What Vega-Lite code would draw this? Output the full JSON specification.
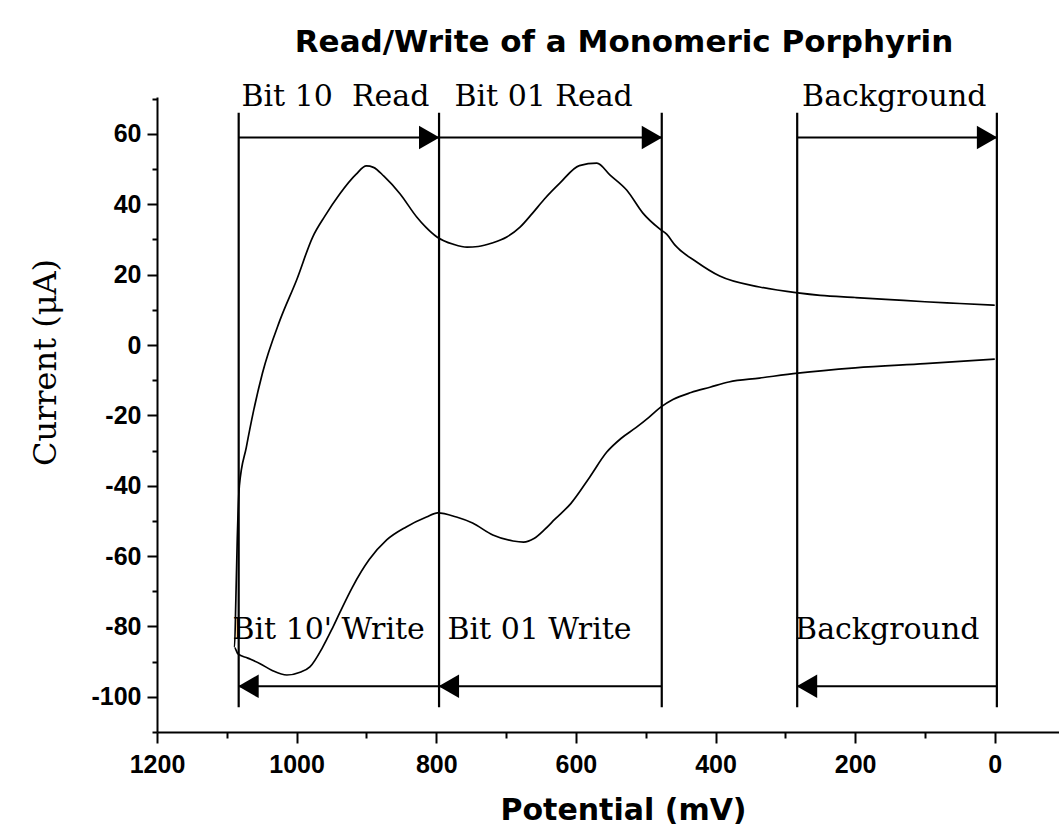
{
  "$schema": "https://vega.github.io/schema/vega-lite/v6.json",
  "width": 902,
  "height": 635,
  "autosize": "none",
  "padding": {"left": 157, "top": 97, "right": 0, "bottom": 107},
  "background": "white",
  "config": {
    "view": {"stroke": null},
    "axis": {
      "domainColor": "black", "domainWidth": 2, "tickColor": "black", "tickWidth": 2,
      "labelColor": "black", "labelFont": "Liberation Sans", "labelFontSize": 25, "labelFontWeight": "bold",
      "titleColor": "black", "grid": false
    }
  },
  "title": {
    "text": "Read/Write of a Monomeric Porphyrin",
    "font": "DejaVu Sans", "fontWeight": "bold", "fontSize": 31, "color": "black",
    "anchor": "middle", "dx": 16, "offset": 23
  },
  "datasets": {
    "curve": [
      {"k": 0, "E": 0, "I": 11.3}, {"k": 1, "E": 50, "I": 11.8}, {"k": 2, "E": 100, "I": 12.3},
      {"k": 3, "E": 150, "I": 12.9}, {"k": 4, "E": 200, "I": 13.5}, {"k": 5, "E": 250, "I": 14.1},
      {"k": 6, "E": 282, "I": 14.8}, {"k": 7, "E": 337, "I": 16.5}, {"k": 8, "E": 394, "I": 19.6},
      {"k": 9, "E": 427, "I": 23.6}, {"k": 10, "E": 458, "I": 28.4}, {"k": 11, "E": 470, "I": 31.5},
      {"k": 12, "E": 480, "I": 33}, {"k": 13, "E": 504, "I": 37.5}, {"k": 14, "E": 527, "I": 44},
      {"k": 15, "E": 551, "I": 48.3}, {"k": 16, "E": 570, "I": 51.7}, {"k": 17, "E": 595, "I": 51},
      {"k": 18, "E": 623, "I": 46}, {"k": 19, "E": 645, "I": 41.5}, {"k": 20, "E": 662, "I": 37.5},
      {"k": 21, "E": 680, "I": 33.5}, {"k": 22, "E": 699, "I": 30.7}, {"k": 23, "E": 720, "I": 29},
      {"k": 24, "E": 740, "I": 28}, {"k": 25, "E": 756, "I": 27.8}, {"k": 26, "E": 775, "I": 28.6},
      {"k": 27, "E": 799, "I": 30.7}, {"k": 28, "E": 815, "I": 33.5}, {"k": 29, "E": 828, "I": 36.4},
      {"k": 30, "E": 852, "I": 43}, {"k": 31, "E": 875, "I": 48}, {"k": 32, "E": 890, "I": 50.5},
      {"k": 33, "E": 900, "I": 50.9}, {"k": 34, "E": 915, "I": 48.5}, {"k": 35, "E": 938, "I": 43},
      {"k": 36, "E": 960, "I": 36.5}, {"k": 37, "E": 977, "I": 30.7}, {"k": 38, "E": 1000, "I": 18.5},
      {"k": 39, "E": 1024, "I": 7}, {"k": 40, "E": 1049, "I": -8}, {"k": 41, "E": 1062, "I": -19},
      {"k": 42, "E": 1072, "I": -29}, {"k": 43, "E": 1082, "I": -40}, {"k": 44, "E": 1085, "I": -55},
      {"k": 45, "E": 1087, "I": -72}, {"k": 46, "E": 1089, "I": -86}, {"k": 47, "E": 1084, "I": -87.8},
      {"k": 48, "E": 1070, "I": -89}, {"k": 49, "E": 1053, "I": -90.5}, {"k": 50, "E": 1035, "I": -92.5},
      {"k": 51, "E": 1014, "I": -93.8}, {"k": 52, "E": 995, "I": -93}, {"k": 53, "E": 981, "I": -91.5},
      {"k": 54, "E": 963, "I": -86}, {"k": 55, "E": 950, "I": -81}, {"k": 56, "E": 938, "I": -76},
      {"k": 57, "E": 920, "I": -68.8}, {"k": 58, "E": 896, "I": -61}, {"k": 59, "E": 871, "I": -55.4},
      {"k": 60, "E": 843, "I": -51.7}, {"k": 61, "E": 814, "I": -48.9}, {"k": 62, "E": 798, "I": -47.7},
      {"k": 63, "E": 771, "I": -48.9}, {"k": 64, "E": 748, "I": -50.6}, {"k": 65, "E": 719, "I": -54},
      {"k": 66, "E": 690, "I": -55.7}, {"k": 67, "E": 675, "I": -56}, {"k": 68, "E": 660, "I": -55},
      {"k": 69, "E": 645, "I": -52.5}, {"k": 70, "E": 630, "I": -49.5}, {"k": 71, "E": 607, "I": -45},
      {"k": 72, "E": 580, "I": -37.5}, {"k": 73, "E": 556, "I": -30.5}, {"k": 74, "E": 535, "I": -26.5},
      {"k": 75, "E": 514, "I": -23.5}, {"k": 76, "E": 495, "I": -20.5}, {"k": 77, "E": 478, "I": -17.6},
      {"k": 78, "E": 461, "I": -15.5}, {"k": 79, "E": 435, "I": -13.5}, {"k": 80, "E": 408, "I": -12},
      {"k": 81, "E": 381, "I": -10.5}, {"k": 82, "E": 337, "I": -9.4}, {"k": 83, "E": 282, "I": -8},
      {"k": 84, "E": 200, "I": -6.5}, {"k": 85, "E": 100, "I": -5.3}, {"k": 86, "E": 0, "I": -4}
    ],
    "vlines": [
      {"E": 1083, "top": 66, "bottom": -103}, {"E": 796, "top": 66, "bottom": -103},
      {"E": 477, "top": 66, "bottom": -103}, {"E": 283, "top": 66, "bottom": -103},
      {"E": -3, "top": 66, "bottom": -103}
    ],
    "arrows": [
      {"from": 1083, "to": 796, "I": 59}, {"from": 796, "to": 477, "I": 59}, {"from": 283, "to": -3, "I": 59},
      {"from": 1083, "to": 796, "I": -97}, {"from": 796, "to": 477, "I": -97}, {"from": 283, "to": -3, "I": -97}
    ],
    "heads": [
      {"E": 810, "I": 59, "dir": "right"}, {"E": 491, "I": 59, "dir": "right"}, {"E": 11, "I": 59, "dir": "right"},
      {"E": 1069, "I": -97, "dir": "left"}, {"E": 782, "I": -97, "dir": "left"}, {"E": 269, "I": -97, "dir": "left"}
    ],
    "labels": [
      {"E": 1079, "I": 68, "text": "Bit 10\u00a0 Read"}, {"E": 774, "I": 68, "text": "Bit 01 Read"},
      {"E": 276, "I": 68, "text": "Background"}, {"E": 1092, "I": -83.5, "text": "Bit 10' Write"},
      {"E": 784, "I": -83.5, "text": "Bit 01 Write"}, {"E": 286, "I": -83.5, "text": "Background"}
    ]
  },
  "encoding": {
    "x": {
      "field": "E", "type": "quantitative",
      "scale": {"domain": [-92, 1200], "reverse": true, "nice": false, "zero": false},
      "axis": {
        "values": [0, 100, 200, 300, 400, 500, 600, 700, 800, 900, 1000, 1100, 1200],
        "labelExpr": "datum.value % 200 === 0 ? '' + datum.value : ''",
        "tickSize": {"condition": {"test": "datum.value % 200 === 0", "value": 11}, "value": 6},
        "labelPadding": 9, "labelFlush": false,
        "title": "Potential (mV)", "titleFont": "DejaVu Sans", "titleFontWeight": "bold", "titleFontSize": 30,
        "titleX": 466, "titleY": 78, "titleAlign": "center", "titleBaseline": "middle"
      }
    },
    "y": {
      "field": "I", "type": "quantitative",
      "scale": {"domain": [-110, 70.5], "nice": false, "zero": false},
      "axis": {
        "values": [-110, -100, -90, -80, -70, -60, -50, -40, -30, -20, -10, 0, 10, 20, 30, 40, 50, 60, 70],
        "labelExpr": "(datum.value % 20 === 0 && datum.value >= -100 && datum.value <= 60) ? '' + datum.value : ''",
        "tickSize": {"condition": {"test": "datum.value % 20 === 0", "value": 10}, "value": 5},
        "labelPadding": 6,
        "title": "Current (μA)", "titleFont": "DejaVu Serif", "titleFontWeight": "normal", "titleFontSize": 32,
        "titleAngle": 270, "titleX": -112, "titleY": 265, "titleAlign": "center", "titleBaseline": "middle"
      }
    }
  },
  "layer": [
    {
      "data": {"name": "curve"},
      "mark": {"type": "line", "color": "black", "strokeWidth": 1.7, "interpolate": "monotone"},
      "encoding": {"order": {"field": "k", "type": "quantitative"}}
    },
    {
      "data": {"name": "vlines"},
      "mark": {"type": "rule", "color": "black", "strokeWidth": 2.2},
      "encoding": {"y": {"field": "top", "type": "quantitative"}, "y2": {"field": "bottom"}}
    },
    {
      "data": {"name": "arrows"},
      "mark": {"type": "rule", "color": "black", "strokeWidth": 2},
      "encoding": {"x": {"field": "from", "type": "quantitative"}, "x2": {"field": "to"}}
    },
    {
      "data": {"name": "heads"},
      "mark": {"type": "point", "filled": true, "color": "black", "opacity": 1, "size": 560},
      "encoding": {
        "shape": {"field": "dir", "type": "nominal", "scale": {"domain": ["right", "left"], "range": ["triangle-right", "triangle-left"]}, "legend": null}
      }
    },
    {
      "data": {"name": "labels"},
      "mark": {"type": "text", "align": "left", "baseline": "alphabetic", "font": "DejaVu Serif", "fontSize": 30, "color": "black"},
      "encoding": {"text": {"field": "text"}}
    }
  ]
}
